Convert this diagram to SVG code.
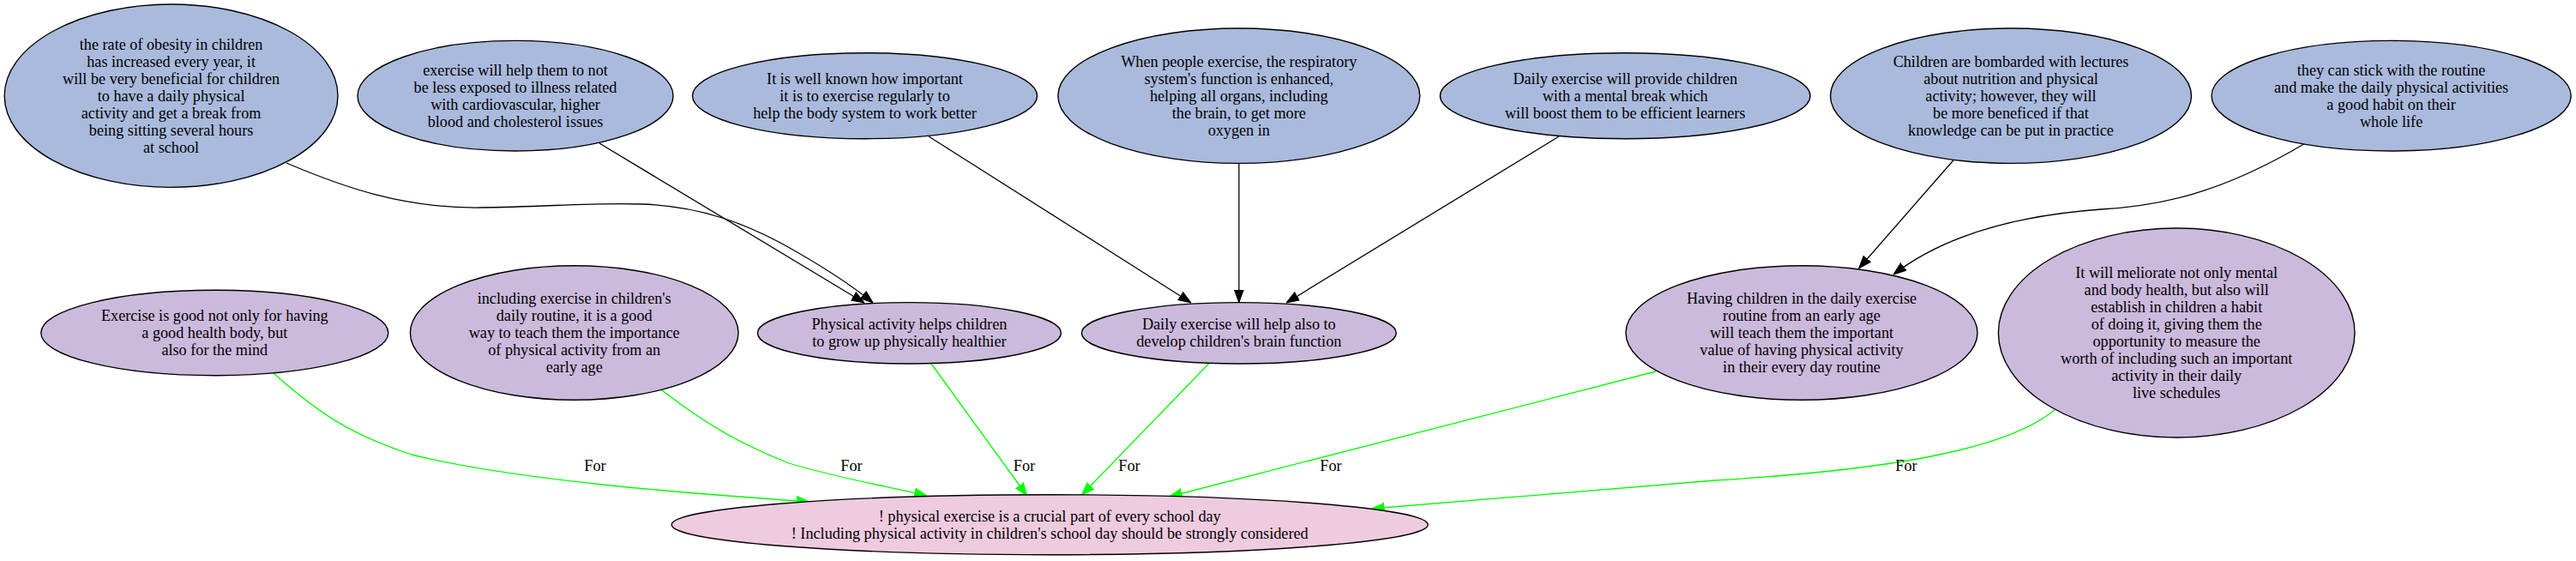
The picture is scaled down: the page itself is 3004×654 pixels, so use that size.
<svg xmlns="http://www.w3.org/2000/svg" width="3004" height="654" viewBox="0 0 3004 654">
<style>
text{font-family:"Liberation Serif","Times New Roman",serif;font-size:18.2px;text-anchor:middle;fill:#000}
.b{fill:#aabadd;stroke:#000;stroke-width:1.4}
.p{fill:#cbbadc;stroke:#000;stroke-width:1.4}
.k{fill:#efcbdf;stroke:#000;stroke-width:1.4}
.e{fill:none;stroke:#000;stroke-width:1.3}
.g{fill:none;stroke:#00ff00;stroke-width:1.3}
</style>
<defs>
<marker id="ab" viewBox="0 -6 15 12" refX="15" refY="0" markerWidth="15" markerHeight="12" markerUnits="userSpaceOnUse" orient="auto"><path d="M0,-5.5 L15,0 L0,5.5 z" fill="#000" stroke="#000"/></marker>
<marker id="ag" viewBox="0 -6 15 12" refX="15" refY="0" markerWidth="15" markerHeight="12" markerUnits="userSpaceOnUse" orient="auto"><path d="M0,-5.5 L15,0 L0,5.5 z" fill="#00ff00" stroke="#00ff00"/></marker>
</defs>
<rect width="3004" height="654" fill="#fff"/>
<g id="connectors">
<path class="e" marker-end="url(#ab)" d="M334,190 C400,218 470,243 560,242 C640,241 690,236 750,238 C820,241 870,262 910,283 C950,305 990,330 1018,353"/>
<path class="e" marker-end="url(#ab)" d="M699,167 L1008,353"/>
<path class="e" marker-end="url(#ab)" d="M1083,159 L1389,353"/>
<path class="e" marker-end="url(#ab)" d="M1444.8,190.7 L1444.8,352.7"/>
<path class="e" marker-end="url(#ab)" d="M1818,159 L1500,353"/>
<path class="e" marker-end="url(#ab)" d="M2278,186.7 L2167.6,313"/>
<path class="e" marker-end="url(#ab)" d="M2687,167.7 C2590,225 2520,240 2450,244 C2340,252 2260,280 2208,320"/>
<path class="g" marker-end="url(#ag)" d="M319,435 C380,490 420,510 480,530 C600,560 800,575 944,585"/>
<path class="g" marker-end="url(#ag)" d="M772,455 C830,500 870,520 920,540 C980,558 1040,568 1081,578"/>
<path class="g" marker-end="url(#ag)" d="M1086,424 L1197.7,578"/>
<path class="g" marker-end="url(#ag)" d="M1409.5,424 L1261.5,577"/>
<path class="g" marker-end="url(#ag)" d="M1931,433 L1363.5,579"/>
<path class="g" marker-end="url(#ag)" d="M2397,477 C2340,525 2200,548 2000,560 L1599.5,593"/>
<text x="694" y="549">For</text>
<text x="993" y="549">For</text>
<text x="1194.5" y="549">For</text>
<text x="1317" y="549">For</text>
<text x="1552" y="549">For</text>
<text x="2223" y="549">For</text>
</g>
<g id="n1"><ellipse class="b" cx="199.6" cy="111.7" rx="194.4" ry="106.7"/>
<text x="199.6" y="57.7">the rate of obesity in children<tspan x="199.6" dy="20">has increased every year, it</tspan><tspan x="199.6" dy="20">will be very beneficial for children</tspan><tspan x="199.6" dy="20">to have a daily physical</tspan><tspan x="199.6" dy="20">activity and get a break from</tspan><tspan x="199.6" dy="20">being sitting several hours</tspan><tspan x="199.6" dy="20">at school</tspan></text></g>
<g id="n2"><ellipse class="b" cx="601" cy="111.7" rx="184" ry="64.3"/>
<text x="601" y="87.7">exercise will help them to not<tspan x="601" dy="20">be less exposed to illness related</tspan><tspan x="601" dy="20">with cardiovascular, higher</tspan><tspan x="601" dy="20">blood and cholesterol issues</tspan></text></g>
<g id="n3"><ellipse class="b" cx="1008.5" cy="111.7" rx="201" ry="50"/>
<text x="1008.5" y="97.7">It is well known how important<tspan x="1008.5" dy="20">it is to exercise regularly to</tspan><tspan x="1008.5" dy="20">help the body system to work better</tspan></text></g>
<g id="n4"><ellipse class="b" cx="1444.8" cy="111.7" rx="211" ry="78.7"/>
<text x="1444.8" y="77.7">When people exercise, the respiratory<tspan x="1444.8" dy="20">system's function is enhanced,</tspan><tspan x="1444.8" dy="20">helping all organs, including</tspan><tspan x="1444.8" dy="20">the brain, to get more</tspan><tspan x="1444.8" dy="20">oxygen in</tspan></text></g>
<g id="n5"><ellipse class="b" cx="1895.2" cy="111.7" rx="215.8" ry="50"/>
<text x="1895.2" y="97.7">Daily exercise will provide children<tspan x="1895.2" dy="20">with a mental break which</tspan><tspan x="1895.2" dy="20">will boost them to be efficient learners</tspan></text></g>
<g id="n6"><ellipse class="b" cx="2345" cy="111.7" rx="210.5" ry="78.7"/>
<text x="2345" y="77.7">Children are bombarded with lectures<tspan x="2345" dy="20">about nutrition and physical</tspan><tspan x="2345" dy="20">activity; however, they will</tspan><tspan x="2345" dy="20">be more beneficed if that</tspan><tspan x="2345" dy="20">knowledge can be put in practice</tspan></text></g>
<g id="n7"><ellipse class="b" cx="2788.6" cy="111.7" rx="209.6" ry="64.3"/>
<text x="2788.6" y="87.7">they can stick with the routine<tspan x="2788.6" dy="20">and make the daily physical activities</tspan><tspan x="2788.6" dy="20">a good habit on their</tspan><tspan x="2788.6" dy="20">whole life</tspan></text></g>
<g id="n8"><ellipse class="p" cx="250.3" cy="388" rx="202.5" ry="49.7"/>
<text x="250.3" y="374">Exercise is good not only for having<tspan x="250.3" dy="20">a good health body, but</tspan><tspan x="250.3" dy="20">also for the mind</tspan></text></g>
<g id="n9"><ellipse class="p" cx="669.7" cy="388" rx="191.3" ry="78.3"/>
<text x="669.7" y="354">including exercise in children's<tspan x="669.7" dy="20">daily routine, it is a good</tspan><tspan x="669.7" dy="20">way to teach them the importance</tspan><tspan x="669.7" dy="20">of physical activity from an</tspan><tspan x="669.7" dy="20">early age</tspan></text></g>
<g id="n10"><ellipse class="p" cx="1060.4" cy="388.3" rx="177" ry="35.7"/>
<text x="1060.4" y="384">Physical activity helps children<tspan x="1060.4" dy="20">to grow up physically healthier</tspan></text></g>
<g id="n11"><ellipse class="p" cx="1444.8" cy="388.3" rx="183.4" ry="35.7"/>
<text x="1444.8" y="384">Daily exercise will help also to<tspan x="1444.8" dy="20">develop children's brain function</tspan></text></g>
<g id="n12"><ellipse class="p" cx="2101" cy="388" rx="205" ry="78.3"/>
<text x="2101" y="354">Having children in the daily exercise<tspan x="2101" dy="20">routine from an early age</tspan><tspan x="2101" dy="20">will teach them the important</tspan><tspan x="2101" dy="20">value of having physical activity</tspan><tspan x="2101" dy="20">in their every day routine</tspan></text></g>
<g id="n13"><ellipse class="p" cx="2538.2" cy="388" rx="207.8" ry="122"/>
<text x="2538.2" y="324">It will meliorate not only mental<tspan x="2538.2" dy="20">and body health, but also will</tspan><tspan x="2538.2" dy="20">establish in children a habit</tspan><tspan x="2538.2" dy="20">of doing it, giving them the</tspan><tspan x="2538.2" dy="20">opportunity to measure the</tspan><tspan x="2538.2" dy="20">worth of including such an important</tspan><tspan x="2538.2" dy="20">activity in their daily</tspan><tspan x="2538.2" dy="20">live schedules</tspan></text></g>
<g id="n14"><ellipse class="k" cx="1224.2" cy="611.7" rx="441" ry="35"/>
<text x="1224.2" y="607.7">! physical exercise is a crucial part of every school day<tspan x="1224.2" dy="20">! Including physical activity in children's school day should be strongly considered</tspan></text></g>
</svg>
